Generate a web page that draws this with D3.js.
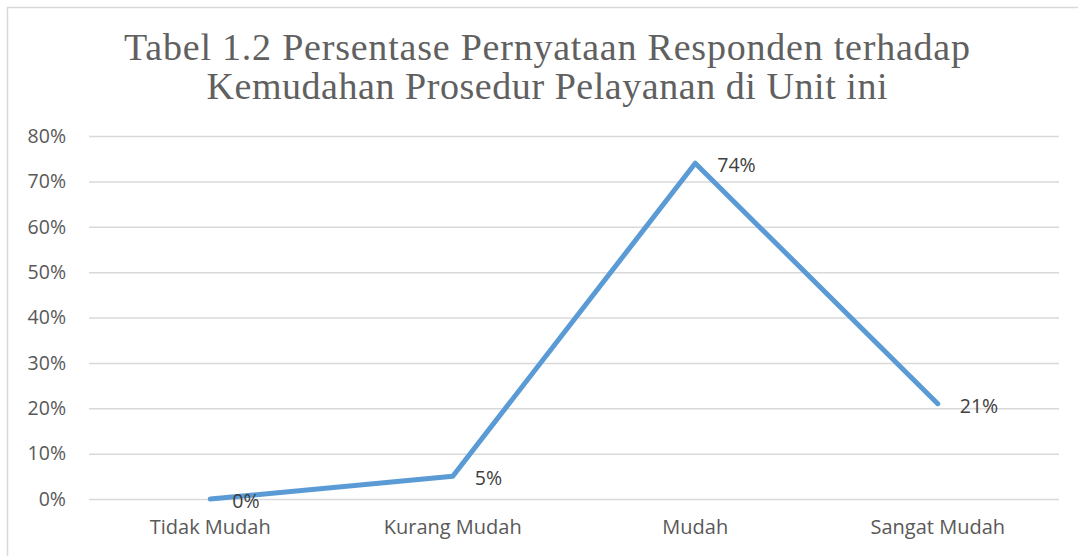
<!DOCTYPE html>
<html><head><meta charset="utf-8">
<script src="https://cdn.jsdelivr.net/npm/d3@7"></script>
<style>html,body{margin:0;padding:0;background:#fff;}svg{display:block;}</style>
</head><body>
<svg id="chart" width="1078" height="556"></svg>
<script>
const categories = ["Tidak Mudah", "Kurang Mudah", "Mudah", "Sangat Mudah"];
const values = [0, 5, 74, 21];
const labels = ["0%", "5%", "74%", "21%"];
const yTicks = [0, 10, 20, 30, 40, 50, 60, 70, 80];
const titleLines = ["Tabel 1.2 Persentase Pernyataan Responden terhadap", "Kemudahan Prosedur Pelayanan di Unit ini"];

const svg = d3.select("#chart");
const W = 1078, H = 556;
const m = {left: 89, right: 1059, top: 136, bottom: 499};

// outer border (top & left)
svg.append("path").attr("d", `M7.5,${H} L7.5,7.5 L${W},7.5`)
  .attr("fill", "none").attr("stroke", "#d9d9d9").attr("stroke-width", 1.5);

const x = d3.scaleBand().domain(categories).range([m.left, m.right]);
const y = d3.scaleLinear().domain([0, 80]).range([m.bottom, m.top]);

const sans = "'Open Sans', 'Liberation Sans', sans-serif";

// gridlines
const yAxis = d3.axisLeft(y).tickValues(yTicks).tickSize(-(m.right - m.left)).tickFormat(d => d + "%").tickPadding(23);
const gy = svg.append("g").attr("transform", `translate(${m.left},0)`).call(yAxis);
gy.select(".domain").remove();
gy.selectAll(".tick line").attr("stroke", "#d9d9d9").attr("stroke-width", 1.5);
gy.selectAll(".tick text").attr("fill", "#595959").style("font-family", sans).style("font-size", "19.5px");

// x axis labels
const xAxis = d3.axisBottom(x).tickSize(0).tickPadding(21);
const gx = svg.append("g").attr("transform", `translate(0,${m.bottom})`).call(xAxis);
gx.select(".domain").remove();
gx.selectAll(".tick text").attr("fill", "#595959").style("font-family", sans).style("font-size", "20px");

// line
const line = d3.line().x((d, i) => x(categories[i]) + x.bandwidth() / 2).y(d => y(d));
svg.append("path").datum(values).attr("d", line)
  .attr("fill", "none").attr("stroke", "#5b9bd5").attr("stroke-width", 5)
  .attr("stroke-linecap", "round").attr("stroke-linejoin", "round");

// data labels
svg.selectAll(".dl").data(values).enter().append("text")
  .attr("x", (d, i) => x(categories[i]) + x.bandwidth() / 2 + 22)
  .attr("y", d => y(d) + 9)
  .attr("fill", "#404040").style("font-family", sans).style("font-size", "19.5px")
  .text((d, i) => labels[i]);

// title
const titleWidths = [846, 681];
svg.selectAll(".title").data(titleLines).enter().append("text")
  .attr("x", 547).attr("y", (d, i) => 60 + i * 39)
  .attr("text-anchor", "middle")
  .attr("fill", "#606060")
  .attr("textLength", (d, i) => titleWidths[i])
  .attr("lengthAdjust", "spacing")
  .style("font-family", "'Liberation Serif', serif")
  .style("font-size", "38px")
  .text(d => d);
</script>
</body></html>
